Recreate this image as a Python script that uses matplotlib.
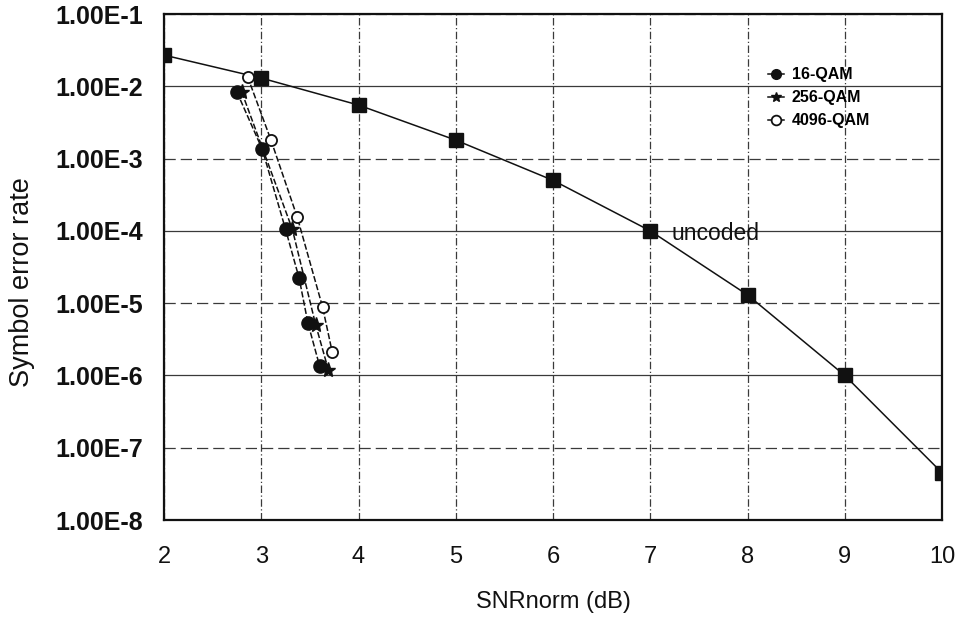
import matplotlib
matplotlib.use("Agg")
import matplotlib.pyplot as plt
from matplotlib.ticker import FixedLocator, FixedFormatter, NullLocator

# ---- data ----
x_ticks = [2, 3, 4, 5, 6, 7, 8, 9, 10]
y_ticks = [1e-1, 1e-2, 1e-3, 1e-4, 1e-5, 1e-6, 1e-7, 1e-8]
y_tick_labels = ["1.00E-1", "1.00E-2", "1.00E-3", "1.00E-4",
                 "1.00E-5", "1.00E-6", "1.00E-7", "1.00E-8"]

x_uncoded = [2, 3, 4, 5, 6, 7, 8, 9, 10]
ser_uncoded = [2.7e-2, 1.3e-2, 5.5e-3, 1.8e-3, 5.0e-4, 1.0e-4, 1.3e-5, 1.0e-6, 4.5e-8]

x_16qam = [2.75, 3.01, 3.25, 3.39, 3.48, 3.60]
ser_16qam = [8.3e-3, 1.35e-3, 1.05e-4, 2.2e-5, 5.3e-6, 1.35e-6]

x_256qam = [2.80, 3.32, 3.56, 3.69]
ser_256qam = [8.3e-3, 1.05e-4, 5.0e-6, 1.2e-6]

x_4096qam = [2.86, 3.10, 3.37, 3.63, 3.73]
ser_4096qam = [1.35e-2, 1.8e-3, 1.55e-4, 8.9e-6, 2.1e-6]

series_labels = ["16-QAM", "256-QAM", "4096-QAM"]
uncoded_label = "uncoded"
x_label = "SNRnorm (dB)"
y_label = "Symbol error rate"

# ---- figure ----
plt.rcParams['font.family'] = ['Liberation Sans', 'DejaVu Sans']
fig = plt.figure(figsize=(9.63, 6.18), dpi=100)
ax = fig.add_axes([164/963, 1-520/618, (942-164)/963, (520-14)/618])

ink = '#111111'
gridc = '#3a3a3a'

ax.set_yscale('log')
ax.set_xlim(2, 10)
ax.set_ylim(1e-8, 1e-1)

ax.xaxis.set_major_locator(FixedLocator(x_ticks))
ax.yaxis.set_major_locator(FixedLocator(y_ticks))
ax.yaxis.set_major_formatter(FixedFormatter(y_tick_labels))
ax.yaxis.set_minor_locator(NullLocator())
ax.xaxis.set_minor_locator(NullLocator())

ax.tick_params(axis='both', length=0, colors=ink)
ax.tick_params(axis='y', pad=15, labelsize=18)
ax.tick_params(axis='x', pad=19, labelsize=17)
for lab in ax.get_yticklabels():
    lab.set_fontweight('bold')

ax.grid(True, axis='x', color=gridc, lw=0.9, ls=(0, (6, 2, 1, 2)))
ax.grid(True, axis='y', color=gridc, lw=0.9)
for i, gl in enumerate(ax.get_ygridlines()):
    if i % 2 == 0:  # 1e-1,1e-3,1e-5,1e-7 -> dashed
        gl.set_linestyle((0, (9, 4)))
    else:
        gl.set_linestyle('-')
ax.set_axisbelow(True)

for s in ax.spines.values():
    s.set_color(ink)
    s.set_linewidth(1.6)

# uncoded
ax.plot(x_uncoded, ser_uncoded, color=ink, lw=1.1, marker='s', ms=10,
        mfc=ink, mec=ink, zorder=3)
ax.text(7.22, 0.92e-4, uncoded_label, fontsize=16.5, color=ink,
        va='center', ha='left', zorder=4)

dash = (0, (4, 1.5))
h16, = ax.plot(x_16qam, ser_16qam, color=ink, lw=1.1, ls=dash, marker='o', ms=9.5,
               mfc=ink, mec=ink, zorder=4)
h256, = ax.plot(x_256qam, ser_256qam, color=ink, lw=1.1, ls=dash, marker='*', ms=11,
                mfc=ink, mec=ink, zorder=4)
h4096, = ax.plot(x_4096qam, ser_4096qam, color=ink, lw=1.1, ls=dash, marker='o', ms=8,
                 mfc='white', mec=ink, mew=1.3, zorder=5)

leg = ax.legend([h16, h256, h4096], series_labels, loc='upper left',
                bbox_to_anchor=(0.776, 0.895), frameon=False,
                prop={'weight': 'bold', 'size': 11.5}, handlelength=1.0,
                handletextpad=0.5, labelspacing=0.5, borderpad=0,
                borderaxespad=0, numpoints=1)
for h in leg.legend_handles:
    h.set_markersize(7)
    h.set_linestyle('-')

ax.set_xlabel(x_label, fontsize=17, color=ink, labelpad=16)
ax.set_ylabel(y_label, fontsize=19.5, color=ink)
ax.yaxis.set_label_coords(-0.166, 0.47)

fig.savefig('out.png', dpi=100, facecolor='white')
